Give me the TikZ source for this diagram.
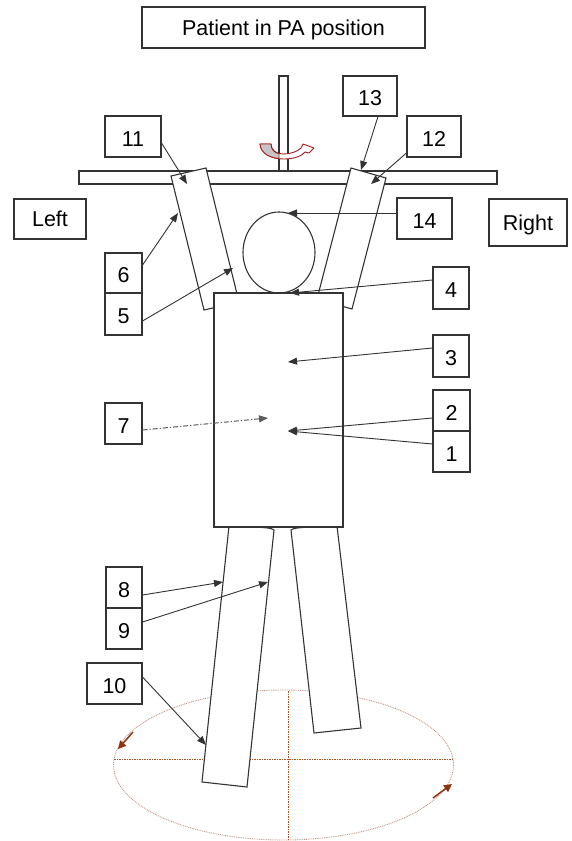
\documentclass[tikz,border=0pt]{standalone}
\usepackage{fontspec}
\setmainfont{Liberation Sans}
\usetikzlibrary{arrows.meta,calc}
\definecolor{edge}{HTML}{333333}
\definecolor{twistred}{HTML}{A01E1E}
\definecolor{ring}{HTML}{BF9A8A}
\definecolor{cross}{HTML}{A9541F}
\definecolor{spin}{HTML}{8E3510}
\begin{document}
\begin{tikzpicture}[x=1pt,y=-1pt,
  box/.style={draw=edge, line width=1.1pt, fill=white, inner sep=0pt,
    font=\fontsize{21.5}{26}\selectfont, text height=15.5pt, text depth=0pt},
  numbox/.style={box, text height=19pt},
  pointer/.style={draw=edge, line width=0.9pt, -{Triangle[length=9pt,width=7pt]}},
  hinted/.style={draw=edge!80, line width=1pt,
    dash pattern=on 5pt off 2pt on 1.2pt off 2pt, -{Triangle[length=9pt,width=7pt]}},
  body/.style={draw=edge, line width=1.1pt, fill=white, line join=miter},
  spinarrow/.style={draw=spin, line width=1.5pt, -{Triangle[length=8pt,width=8pt]}}]

% page
\fill[white] (0,0) rectangle (571,841);
\useasboundingbox (0,0) rectangle (571,841);

% turning circle on the floor
\draw[ring, line width=0.9pt, dash pattern=on 0.9pt off 0.9pt] (283.5,765) ellipse [x radius=170, y radius=75];
\draw[cross, line width=1pt, dash pattern=on 1.5pt off 1pt] (114,759) -- (453,759);
\draw[cross, line width=1pt, dash pattern=on 1.5pt off 1pt] (288,691) -- (288,840);
\coordinate (spinLa) at (133,732);
\coordinate (spinLb) at (118,749);
\coordinate (spinRa) at (433,798);
\coordinate (spinRb) at (452,784);
\draw[spinarrow] (spinLa) -- (spinLb);
\draw[spinarrow] (spinRa) -- (spinRb);

% vertical rod and horizontal bar
\draw[body] (279,76) rectangle (288,171);
\draw[body] (79,171) rectangle (497,184);

% rotation arrow round the rod
\draw[draw=twistred, line width=0.9pt, fill=white, line join=round]
  (260,144) .. controls (261,154) and (272,159) .. (284,159)
  .. controls (294,159) and (302,156) .. (305,152)
  -- (309,153) -- (314,148) -- (303,144) -- (301,148)
  .. controls (297,152) and (290,154) .. (283,154)
  .. controls (276,154) and (271,150) .. (271,144) -- cycle;
\draw[draw=twistred, line width=0.9pt, fill=gray!45, line join=round]
  (260,144) .. controls (261,154) and (270,157.5) .. (279,158.6)
  -- (279,153.6) .. controls (275,153) and (271,150) .. (271,144) -- cycle;

% arms
\draw[body] (171,176) -- (206,168) -- (239,302) -- (204,310) -- cycle;
\draw[body] (351,168) -- (386,178) -- (352,309) -- (317,299) -- cycle;

% head
\draw[body] (279,252.5) ellipse [x radius=36, y radius=40.5];

% legs
\draw[body] (229,526) -- (253,527) .. controls (265,527.5) and (272,528) .. (274,530)
  -- (247,787) -- (202,782) -- cycle;
\draw[body] (291,530) .. controls (293,528) and (300,527.5) .. (312,527) -- (337,526)
  -- (361,728) -- (314,733) -- cycle;

% trunk
\draw[body] (214,293) rectangle (343,527);

% captions
\node[box, minimum width=283pt, minimum height=41pt] (title) at (283.5,27.5) {Patient in PA position};
\node[box, minimum width=72pt, minimum height=40pt] (left) at (50,219) {Left};
\node[box, minimum width=78pt, minimum height=47pt] (right) at (528,222.5) {Right};

% numbered labels
\node[numbox, minimum width=56pt, minimum height=41pt] (b11) at (133,136.5) {11\hspace{15pt}};
\node[numbox, minimum width=54pt, minimum height=40pt] (b13) at (370,96) {13};
\node[numbox, minimum width=54pt, minimum height=41pt] (b12) at (434,136.5) {12};
\node[numbox, minimum width=55pt, minimum height=41pt] (b14) at (424.5,218.5) {14};
\node[numbox, minimum width=36pt, minimum height=42pt] (b4) at (451,288) {4};
\node[numbox, minimum width=36pt, minimum height=42pt] (b3) at (451,356) {3};
\node[numbox, minimum width=37pt, minimum height=41pt] (b2) at (451.5,410.5) {2};
\node[numbox, minimum width=37pt, minimum height=41pt] (b1) at (451.5,451.5) {1};
\node[numbox, minimum width=37pt, minimum height=41pt] (b7) at (123.5,423.5) {7};
\node[numbox, minimum width=37pt, minimum height=40pt] (b6) at (123.5,273) {6};
\node[numbox, minimum width=37pt, minimum height=42pt] (b5) at (123.5,314) {5};
\node[numbox, minimum width=36pt, minimum height=41pt] (b8) at (124,587.5) {8};
\node[numbox, minimum width=36pt, minimum height=41pt] (b9) at (124,628.5) {9};
\node[numbox, minimum width=55pt, minimum height=41pt] (b10) at (114.5,683.5) {10};

% pointed spots
\coordinate (p11) at (187,184);
\coordinate (p13) at (361,170);
\coordinate (p12) at (371,184);
\coordinate (p14) at (288,213);
\coordinate (p4) at (290,293);
\coordinate (p3) at (288,362);
\coordinate (p21) at (288,431);
\coordinate (p7) at (268,418);
\coordinate (p6) at (178,213);
\coordinate (p5) at (233,268);
\coordinate (p8) at (223,582);
\coordinate (p9) at (268,582);
\coordinate (p10) at (206,745);

% pointers
\draw[pointer] ([yshift=-6.5pt]b11.east) -- (p11);
\draw[pointer] ([xshift=8pt]b13.south) -- (p13);
\draw[pointer] ([yshift=-16.5pt]b12.west) -- (p12);
\draw[pointer] ([yshift=5.5pt]b14.west) -- (p14);
\draw[pointer] ([yshift=8pt]b4.west) -- (p4);
\draw[pointer] ([yshift=8pt]b3.west) -- (p3);
\draw[pointer] ([yshift=-7.5pt]b2.west) -- (p21);
\draw[pointer] ([yshift=7.5pt]b1.west) -- (p21);
\draw[hinted] ([yshift=-6.5pt]b7.east) -- (p7);
\draw[pointer] ([yshift=8pt]b6.east) -- (p6);
\draw[pointer] ([yshift=-7pt]b5.east) -- (p5);
\draw[pointer] ([yshift=-7.5pt]b8.east) -- (p8);
\draw[pointer] ([yshift=6.5pt]b9.east) -- (p9);
\draw[pointer] ([yshift=6.5pt]b10.east) -- (p10);
\end{tikzpicture}
\end{document}
